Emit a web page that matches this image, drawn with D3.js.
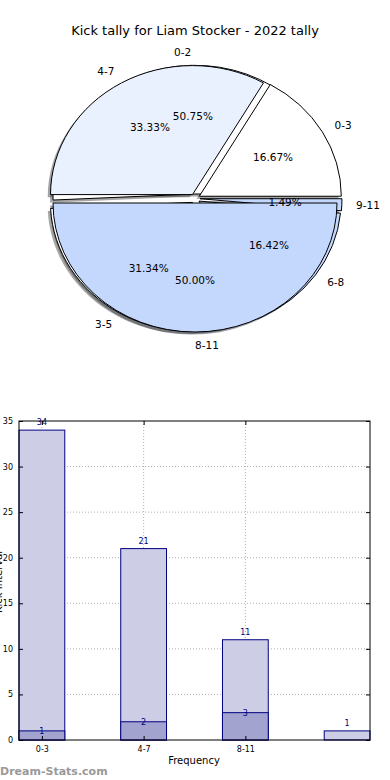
<!DOCTYPE html>
<html>
<head>
<meta charset="utf-8">
<script src="https://cdn.jsdelivr.net/npm/d3@7"></script>
<style>
  body { margin: 0; background: #fff; }
  svg { display: block; font-family: "DejaVu Sans", sans-serif; }
</style>
</head>
<body>
<div id="chart"></div>
<script>
// pie data (two pies drawn over each other)
const pieLabelsA = ["0-3", "4-7", "8-11"];
const pieValuesA = [1, 2, 3];
const pieLabelsB = ["0-2", "3-5", "6-8", "9-11"];
const pieValuesB = [34, 21, 11, 1];

// bar data
const barTicks = ["0-3", "4-7", "8-11"];
const barTotals = [34, 21, 11, 1];
const barInner = [1, 2, 3];
const yTicks = [0, 5, 10, 15, 20, 25, 30, 35];

const W = 390, H = 780;
const svg = d3.select("#chart").append("svg")
  .attr("width", W).attr("height", H);

svg.append("text")
  .attr("x", 195).attr("y", 35)
  .attr("text-anchor", "middle")
  .style("font-size", "13px")
  .text("Kick tally for Liam Stocker - 2022 tally");

// ---- pie ----
let cx = 195, cy = 198.5, rx = 142, ry = 129, explode = 0.035;

let pie = d3.pie().sort(null)
  .startAngle(Math.PI / 2)
  .endAngle(Math.PI / 2 - 2 * Math.PI);
let arc = d3.arc().innerRadius(0).outerRadius(1);

let colorsA = ["#ffffff", "#eaf1fe", "#c4d8fe"];
let colorsB = ["#ffffff", "#ffffff", "#c4d8fe", "#c4d8fe"];

function wedges(values, labels, colors) {
  return pie(values).map((d, i) => {
    let mid = (d.startAngle + d.endAngle) / 2;
    let ux = Math.sin(mid), uy = -Math.cos(mid);
    return {
      d: d, label: labels[i], color: colors[i],
      pct: (d.value / d3.sum(values) * 100).toFixed(2) + "%",
      ux: ux, uy: uy,
      ox: cx + explode * ux * rx, oy: cy + explode * uy * ry
    };
  });
}
let wA = wedges(pieValuesA, pieLabelsA, colorsA);
let wB = wedges(pieValuesB, pieLabelsB, colorsB);

let pieG = svg.append("g");
// shadows under everything
pieG.selectAll(".shadow")
  .data(wB.concat(wA))
  .enter().append("path")
  .attr("class", "shadow")
  .attr("d", w => arc(w.d))
  .attr("transform", w => `translate(${w.ox - 2.8},${w.oy + 2.6}) scale(${rx},${ry})`)
  .attr("fill", w => { let c = d3.rgb(w.color); return d3.rgb(c.r * 0.3, c.g * 0.3, c.b * 0.3); })
  .attr("fill-opacity", 0.5);

function drawWedges(list, cls) {
  pieG.selectAll("." + cls)
    .data(list)
    .enter().append("path")
    .attr("class", cls)
    .attr("d", w => arc(w.d))
    .attr("transform", w => `translate(${w.ox},${w.oy}) scale(${rx},${ry})`)
    .attr("fill", w => w.color)
    .attr("stroke", "#000")
    .attr("stroke-width", 1)
    .attr("stroke-linejoin", "round")
    .attr("vector-effect", "non-scaling-stroke");
}
drawWedges(wB, "wedgeB");
drawWedges(wA, "wedgeA");

let allW = wB.concat(wA);
pieG.selectAll(".pct")
  .data(allW)
  .enter().append("text")
  .attr("x", w => w.ox + 0.6 * w.ux * rx)
  .attr("y", w => w.oy + 0.6 * w.uy * ry)
  .attr("dy", "0.35em")
  .attr("text-anchor", "middle")
  .style("font-size", "10.5px")
  .text(w => w.pct);

pieG.selectAll(".lab")
  .data(allW)
  .enter().append("text")
  .attr("x", w => w.ox + 1.1 * w.ux * rx)
  .attr("y", w => w.oy + 1.1 * w.uy * ry)
  .attr("dy", "0.35em")
  .attr("text-anchor", w => w.ux > -1e-6 ? "start" : "end")
  .style("font-size", "10.5px")
  .text(w => w.label);

// ---- bars ----
let box = {left: 19, right: 370, top: 421, bottom: 740};
let barW = 0.45;
let x = d3.scaleLinear().domain([-barW / 2, 3 + barW / 2]).range([box.left, box.right]);
let y = d3.scaleLinear().domain([0, 35]).range([box.bottom, box.top]);

let g = svg.append("g");

// grid
g.selectAll(".hgrid").data(yTicks.slice(1, -1)).enter().append("line")
  .attr("x1", box.left).attr("x2", box.right)
  .attr("y1", d => y(d)).attr("y2", d => y(d))
  .attr("stroke", "#b0b0b0").attr("stroke-dasharray", "1,2");
g.selectAll(".vgrid").data(barTicks).enter().append("line")
  .attr("x1", (d, i) => x(i)).attr("x2", (d, i) => x(i))
  .attr("y1", box.top).attr("y2", box.bottom)
  .attr("stroke", "#b0b0b0").attr("stroke-dasharray", "1,2");

// light bars
g.selectAll(".bar").data(barTotals).enter().append("rect")
  .attr("x", (d, i) => x(i - barW / 2))
  .attr("y", d => y(d))
  .attr("width", x(barW) - x(0))
  .attr("height", d => y(0) - y(d))
  .attr("fill", "#cdcde6").attr("stroke", "#000080").attr("stroke-width", 1);
g.selectAll(".barIn").data(barInner).enter().append("rect")
  .attr("x", (d, i) => x(i - barW / 2))
  .attr("y", d => y(d))
  .attr("width", x(barW) - x(0))
  .attr("height", d => y(0) - y(d))
  .attr("fill", "#a3a3d0").attr("stroke", "#000080").attr("stroke-width", 1);

g.selectAll(".vt").data(barTotals).enter().append("text")
  .attr("x", (d, i) => x(i)).attr("y", d => y(d) - 5)
  .attr("text-anchor", "middle").attr("fill", "#000080")
  .style("font-size", "8px").text(d => d);
g.selectAll(".vi").data(barInner).enter().append("text")
  .attr("x", (d, i) => x(i)).attr("y", d => y(d) + 3.5)
  .attr("text-anchor", "middle").attr("fill", "#000080")
  .style("font-size", "8px").text(d => d);

// frame
g.append("rect")
  .attr("x", box.left).attr("y", box.top)
  .attr("width", box.right - box.left).attr("height", box.bottom - box.top)
  .attr("fill", "none").attr("stroke", "#000").attr("stroke-width", 1);

// y axis, ticks inside
g.append("g").attr("transform", `translate(${box.left},0)`)
  .call(d3.axisLeft(y).tickValues(yTicks).tickSize(-4).tickPadding(6))
  .call(a => a.select(".domain").remove())
  .call(a => a.selectAll("text").style("font-size", "8px").style("font-family", "DejaVu Sans"));
g.append("g").attr("transform", `translate(${box.right},0)`)
  .call(d3.axisRight(y).tickValues(yTicks).tickSize(-4).tickFormat(""))
  .call(a => a.select(".domain").remove());

let xAxis = d3.axisBottom(x).tickValues([0, 1, 2]).tickFormat((d) => barTicks[d]);
g.append("g").attr("transform", `translate(0,${box.bottom})`)
  .call(xAxis.tickSize(-4).tickPadding(6))
  .call(a => a.select(".domain").remove())
  .call(a => a.selectAll("text").style("font-size", "8px").style("font-family", "DejaVu Sans"));
g.append("g").attr("transform", `translate(0,${box.top})`)
  .call(d3.axisTop(x).tickValues([0, 1, 2]).tickSize(-4).tickFormat(""))
  .call(a => a.select(".domain").remove());

svg.append("text")
  .attr("x", 194).attr("y", 764)
  .attr("text-anchor", "middle")
  .style("font-size", "10px")
  .text("Frequency");

svg.append("text")
  .attr("transform", "translate(2,582) rotate(-90)")
  .attr("text-anchor", "middle")
  .style("font-size", "10px")
  .text("Kick Interval");

svg.append("text")
  .attr("x", 0).attr("y", 775)
  .attr("fill", "#999")
  .style("font-size", "11px")
  .style("font-weight", "bold")
  .text("Dream-Stats.com");
</script>
</body>
</html>
